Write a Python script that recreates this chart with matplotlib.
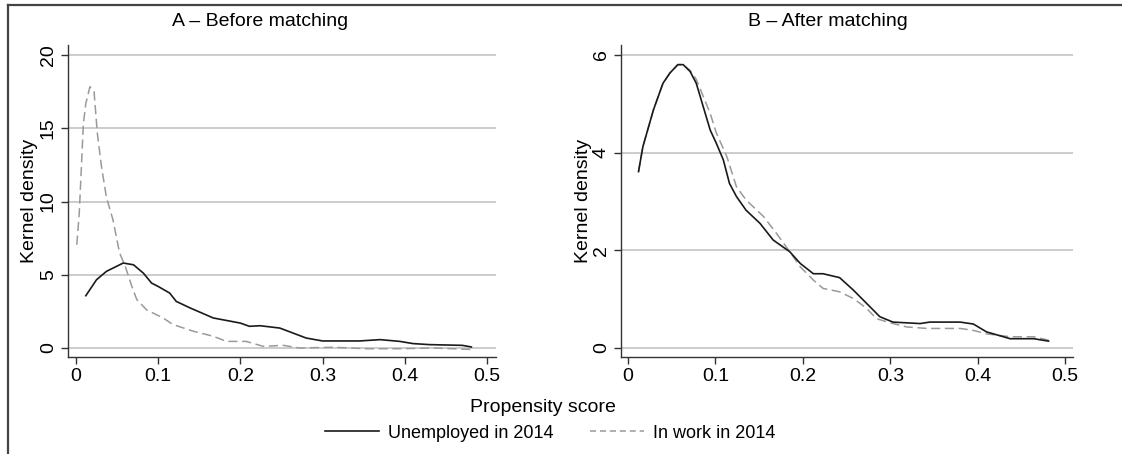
import matplotlib
matplotlib.use('Agg')
import matplotlib.pyplot as plt
from matplotlib import font_manager
from matplotlib.lines import Line2D

# pick a narrow sans if there is one
names = {f.name for f in font_manager.fontManager.ttflist}
family = 'Liberation Sans Narrow' if 'Liberation Sans Narrow' in names else 'Liberation Sans'
plt.rcParams['font.family'] = [family, 'DejaVu Sans']

# panel A - before matching
a_unemp_x = [0.012, 0.025, 0.037, 0.0575, 0.07, 0.082, 0.092, 0.1, 0.114, 0.122, 0.139, 0.167,
             0.2, 0.211, 0.224, 0.248, 0.264, 0.28, 0.3, 0.345, 0.37, 0.394, 0.41, 0.43, 0.47, 0.481]
a_unemp_y = [3.57, 4.66, 5.23, 5.8, 5.68, 5.11, 4.43, 4.2, 3.75, 3.18, 2.73, 2.05,
             1.7, 1.48, 1.52, 1.36, 1.02, 0.68, 0.48, 0.48, 0.57, 0.45, 0.3, 0.23, 0.18, 0.07]
a_work_x = [0.001, 0.004, 0.009, 0.012, 0.017, 0.022, 0.026, 0.031, 0.037, 0.045, 0.053, 0.06,
            0.068, 0.074, 0.086, 0.098, 0.106, 0.118, 0.143, 0.167, 0.183, 0.207, 0.228, 0.252,
            0.272, 0.313, 0.353, 0.394, 0.434, 0.481]
a_work_y = [7.05, 9.2, 15.3, 16.7, 17.84, 17.5, 14.66, 12.4, 10.3, 8.75, 6.5, 5.57,
            4.2, 3.3, 2.6, 2.27, 2.05, 1.6, 1.14, 0.8, 0.45, 0.45, 0.11, 0.18,
            0.0, 0.05, -0.05, -0.05, 0.0, -0.1]

# panel B - after matching
b_unemp_x = [0.012, 0.017, 0.029, 0.04, 0.048, 0.057, 0.063, 0.071, 0.078, 0.086, 0.094, 0.101,
             0.109, 0.116, 0.124, 0.135, 0.151, 0.166, 0.185, 0.197, 0.212, 0.223, 0.242, 0.258,
             0.273, 0.288, 0.303, 0.334, 0.345, 0.38, 0.395, 0.41, 0.437, 0.464, 0.481]
b_unemp_y = [3.61, 4.12, 4.87, 5.42, 5.63, 5.8, 5.8, 5.66, 5.42, 4.94, 4.46, 4.19,
             3.85, 3.37, 3.1, 2.82, 2.55, 2.21, 1.97, 1.73, 1.52, 1.52, 1.44, 1.18,
             0.91, 0.64, 0.53, 0.5, 0.53, 0.53, 0.49, 0.33, 0.19, 0.19, 0.14]
b_work_x = [0.012, 0.017, 0.029, 0.04, 0.048, 0.057, 0.063, 0.071, 0.078, 0.086, 0.094, 0.101,
            0.113, 0.124, 0.135, 0.155, 0.17, 0.185, 0.197, 0.212, 0.223, 0.242, 0.258, 0.273,
            0.284, 0.303, 0.319, 0.342, 0.38, 0.395, 0.41, 0.437, 0.464, 0.481]
b_work_y = [3.61, 4.12, 4.87, 5.42, 5.63, 5.8, 5.8, 5.68, 5.5, 5.15, 4.8, 4.4,
            3.92, 3.3, 3.03, 2.69, 2.34, 1.97, 1.66, 1.39, 1.22, 1.15, 1.01, 0.81,
            0.6, 0.5, 0.43, 0.4, 0.4, 0.36, 0.29, 0.23, 0.23, 0.16]

x_ticks = [0, 0.1, 0.2, 0.3, 0.4, 0.5]
x_labels = ['0', '0.1', '0.2', '0.3', '0.4', '0.5']
a_yticks = [0, 5, 10, 15, 20]
b_yticks = [0, 2, 4, 6]

solid_col = '#1a1a1a'
dash_col = '#9a9a9a'
fs = 14

fig = plt.figure(figsize=(11.22, 4.54), dpi=100)
axA = fig.add_axes([0.0606, 0.2137, 0.3815, 0.687])
axB = fig.add_axes([0.5535, 0.2137, 0.4029, 0.687])


def style(ax, yticks, xlim, ylim):
    ax.set_xlim(*xlim)
    ax.set_ylim(*ylim)
    ax.set_xticks(x_ticks)
    ax.set_xticklabels(x_labels, fontsize=fs)
    ax.set_yticks(yticks)
    ax.set_yticklabels([str(t) for t in yticks], fontsize=fs, rotation=90, va='center')
    for s in ['top', 'right']:
        ax.spines[s].set_visible(False)
    for s in ['left', 'bottom']:
        ax.spines[s].set_color('#333333')
        ax.spines[s].set_linewidth(1.0)
    ax.tick_params(length=5, width=1.0, color='#333333', pad=3)
    ax.yaxis.grid(True, color='#c4c4c4', linewidth=1.2)
    ax.set_axisbelow(True)
    ax.set_ylabel('Kernel density', fontsize=fs, labelpad=1)


line_kw = dict(solid_joinstyle='round', dash_joinstyle='round')
axA.plot(a_work_x, a_work_y, color=dash_col, lw=1.1, ls=(0, (6, 3)), **line_kw)
axA.plot(a_unemp_x, a_unemp_y, color=solid_col, lw=1.2, **line_kw)
style(axA, a_yticks, (-0.0097, 0.511), (-0.614, 20.68))

axB.plot(b_work_x, b_work_y, color=dash_col, lw=1.1, ls=(0, (6, 3)), **line_kw)
axB.plot(b_unemp_x, b_unemp_y, color=solid_col, lw=1.2, **line_kw)
style(axB, b_yticks, (-0.008, 0.509), (-0.184, 6.2))

fig.text(260 / 1122, 1 - 22 / 454, 'A \u2013 Before matching', fontsize=fs, ha='center', va='center')
fig.text(828 / 1122, 1 - 22 / 454, 'B \u2013 After matching', fontsize=fs, ha='center', va='center')
fig.text(543 / 1122, 1 - 408 / 454, 'Propensity score', fontsize=fs, ha='center', va='center')

# legend below the axis title
h1 = Line2D([], [], color=solid_col, lw=1.2)
h2 = Line2D([], [], color=dash_col, lw=1.1, ls=(0, (4, 2.5)))
fig.legend([h1, h2], ['Unemployed in 2014', 'In work in 2014'], loc='center',
           bbox_to_anchor=(550 / 1122, 1 - 433 / 454), ncol=2, frameon=False,
           fontsize=fs - 1, handlelength=3.0, columnspacing=2.0, handletextpad=0.5)

# outer frame (left and top edges)
fig.add_artist(Line2D([8 / 1122, 8 / 1122], [0, 1 - 4.5 / 454], color='#444444', lw=1.6,
                      transform=fig.transFigure))
fig.add_artist(Line2D([8 / 1122, 1], [1 - 4.5 / 454, 1 - 4.5 / 454], color='#444444', lw=1.6,
                      transform=fig.transFigure))

fig.savefig('out.png', dpi=100)
